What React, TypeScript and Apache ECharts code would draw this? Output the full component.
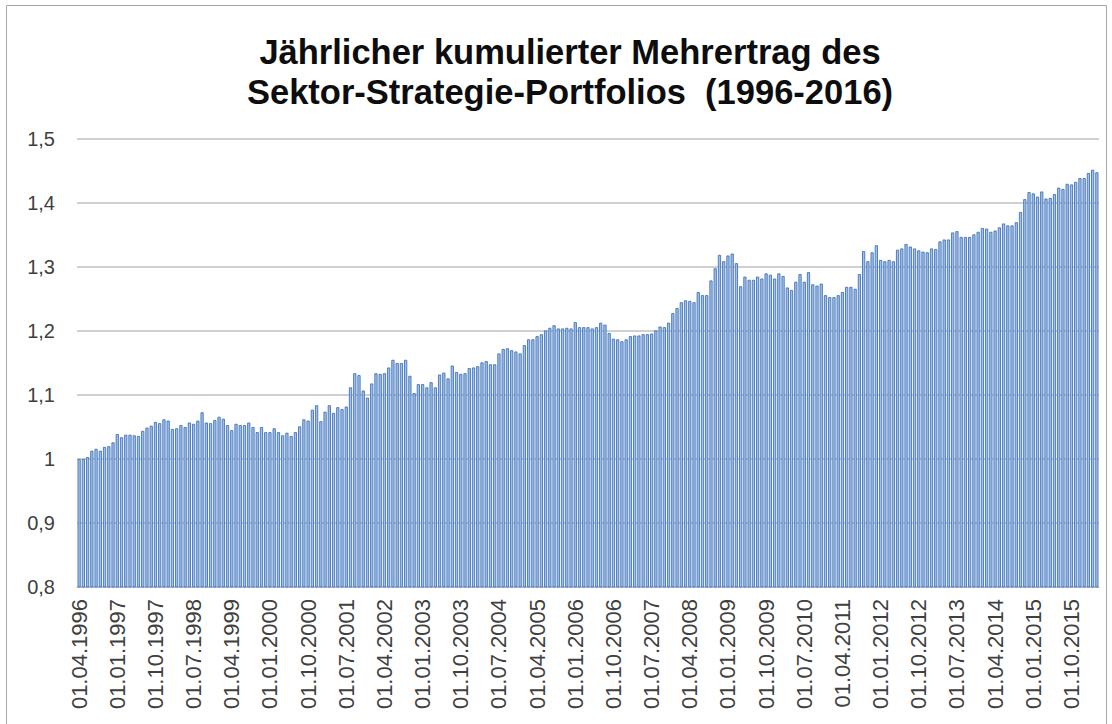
import React, { useEffect, useRef } from "react";
import * as echarts from "echarts";

const START_YEAR = 1996;
const START_MONTH = 4; // April
const MONTH_COUNT = 241;

const values1996to1997: number[] = [
  1.000, 1.000, 1.003, 1.013, 1.016, 1.013, 1.019, 1.020, 1.026, 1.039, 1.034, 1.038,
  1.038, 1.037, 1.036, 1.044, 1.049, 1.052, 1.058, 1.056, 1.062, 1.060, 1.047, 1.048,
];
const values1998to1999: number[] = [
  1.053, 1.050, 1.057, 1.055, 1.060, 1.073, 1.057, 1.056, 1.061, 1.066, 1.063, 1.053,
  1.045, 1.055, 1.053, 1.053, 1.057, 1.050, 1.042, 1.050, 1.042, 1.042, 1.048,
];
const values2000to2001: number[] = [
  1.042, 1.037, 1.041, 1.036, 1.042, 1.051, 1.062, 1.060, 1.077, 1.084, 1.059, 1.074,
  1.084, 1.072, 1.081, 1.078, 1.082, 1.112, 1.134, 1.131, 1.107, 1.096, 1.118, 1.134,
  1.133, 1.134,
];
const values2002to2003: number[] = [
  1.143, 1.155, 1.150, 1.150, 1.155, 1.130, 1.103, 1.117, 1.117, 1.112, 1.120, 1.112,
  1.132, 1.135, 1.126, 1.146, 1.136, 1.133, 1.134, 1.142, 1.143, 1.145, 1.151,
];
const values2004to2005: number[] = [
  1.153, 1.148, 1.148, 1.165, 1.172, 1.173, 1.170, 1.168, 1.165, 1.178, 1.187, 1.187,
  1.192, 1.195, 1.201, 1.205, 1.209, 1.204, 1.204, 1.205, 1.204,
];
const values2006to2007: number[] = [
  1.214, 1.206, 1.206, 1.206, 1.204, 1.206, 1.213, 1.210, 1.197, 1.188, 1.187, 1.184,
  1.187, 1.192, 1.193, 1.193, 1.195, 1.195, 1.196, 1.201, 1.207, 1.206, 1.213, 1.228,
];
const values2008to2010: number[] = [
  1.236, 1.245, 1.248, 1.247, 1.245, 1.261, 1.256, 1.256, 1.279, 1.298, 1.319, 1.309,
  1.318, 1.321, 1.306, 1.270, 1.285, 1.280, 1.280, 1.285, 1.282, 1.290, 1.288, 1.282,
  1.290, 1.286,
];
const values2010to2012: number[] = [
  1.268, 1.264, 1.277, 1.289, 1.277, 1.292, 1.273, 1.271, 1.274, 1.256, 1.253, 1.253,
  1.256, 1.261, 1.269, 1.269, 1.266, 1.289, 1.325, 1.309, 1.323, 1.334, 1.311, 1.309,
];
const values2012to2013: number[] = [
  1.311, 1.309, 1.327, 1.329, 1.336, 1.332, 1.329, 1.326, 1.324, 1.323, 1.329, 1.328,
  1.340, 1.343, 1.343, 1.354, 1.356, 1.347, 1.347, 1.347, 1.351,
];
const values2014to2016: number[] = [
  1.355, 1.361, 1.360, 1.355, 1.357, 1.362, 1.368, 1.365, 1.365, 1.370, 1.386, 1.406,
  1.417, 1.415, 1.410, 1.418, 1.407, 1.408, 1.414, 1.424, 1.422, 1.430, 1.429, 1.433,
  1.439, 1.439, 1.447, 1.452, 1.448,
];

const values: number[] = [
  ...values1996to1997,
  ...values1998to1999,
  ...values2000to2001,
  ...values2002to2003,
  ...values2004to2005,
  ...values2006to2007,
  ...values2008to2010,
  ...values2010to2012,
  ...values2012to2013,
  ...values2014to2016,
];

const categories: string[] = [];
for (let k = 0; k < MONTH_COUNT; k++) {
  const m0 = START_MONTH - 1 + k;
  const y = START_YEAR + Math.floor(m0 / 12);
  const m = (m0 % 12) + 1;
  categories.push(`01.${m < 10 ? "0" + m : m}.${y}`);
}

const yTicks = [0.8, 0.9, 1.0, 1.1, 1.2, 1.3, 1.4, 1.5];
const titleText = "Jährlicher kumulierter Mehrertrag des\nSektor-Strategie-Portfolios  (1996-2016)";

export default function App() {
  const ref = useRef<HTMLDivElement>(null);
  useEffect(() => {
    document.body.style.margin = "0";
    const chart = echarts.init(ref.current!, null, { renderer: "svg" });
    chart.setOption({
      animation: false,
      backgroundColor: "#ffffff",
      title: {
        text: titleText,
        left: 565,
        textAlign: "center",
        top: 27,
        textStyle: {
          fontFamily: "Liberation Sans",
          fontWeight: "bold",
          fontSize: 34.5,
          lineHeight: 40,
          color: "#0d0d0d",
        },
      },
      graphic: [
        {
          type: "rect",
          shape: { x: 6.5, y: 5.5, width: 1100, height: 800 },
          style: { fill: "none", stroke: "#a6a6a6", lineWidth: 1 },
          silent: true,
        },
      ],
      grid: { left: 77, right: 13, top: 139, bottom: 137 },
      xAxis: {
        type: "category",
        data: categories,
        boundaryGap: true,
        axisLine: { show: true, lineStyle: { color: "#bfbfbf" } },
        axisTick: { show: false },
        axisLabel: {
          interval: 8,
          rotate: 90,
          margin: 12,
          fontFamily: "Liberation Sans",
          fontSize: 22,
          color: "#404040",
        },
      },
      yAxis: {
        type: "value",
        min: yTicks[0],
        max: yTicks[yTicks.length - 1],
        interval: 0.1,
        axisLine: { show: false },
        axisTick: { show: false },
        splitLine: { show: true, lineStyle: { color: "#c0c0c0", width: 1.5 } },
        axisLabel: {
          margin: 22,
          fontFamily: "Liberation Sans",
          fontSize: 20,
          color: "#404040",
          formatter: (v: number) => String(parseFloat(v.toFixed(1))).replace(".", ","),
        },
      },
      series: [
        {
          type: "bar",
          data: values,
          barWidth: 3.2,
          itemStyle: {
            color: "#a2c0ea",
            borderColor: "#4374b8",
            borderWidth: 0.9,
          },
        },
      ],
    });
    return () => chart.dispose();
  }, []);
  return <div ref={ref} style={{ width: 1112, height: 724 }} />;
}
